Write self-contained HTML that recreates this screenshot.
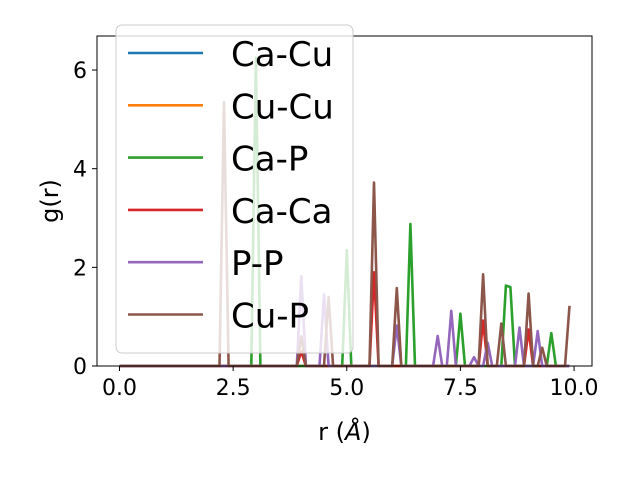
<!DOCTYPE html>
<html><head><meta charset="utf-8"><style>
body{margin:0;background:#fff;}
svg text{font-family:"DejaVu Sans","Liberation Sans",sans-serif;fill:#000;}
</style></head><body>
<svg id="chart" width="640" height="480">
<g id="plot"></g>
<g id="axes"></g>
<g id="legend"></g>
</svg>
<script>
const rGrid = Array.from({length:100},(_,i)=>+(i*0.1).toFixed(1));
const seriesNames = ["Ca-Cu","Cu-Cu","Ca-P","Ca-Ca","P-P","Cu-P"];
const seriesColors = ["#1f77b4","#ff7f0e","#2ca02c","#d62728","#9467bd","#8c564b"];
// peaks: [r, g]
const peaksCaCu = [];
const peaksCuCu = [];
const peaksCaP = [[3.0,6.25],[5.0,2.35],[6.4,2.88],[7.5,1.06],[8.5,1.63],[8.6,1.6],[9.5,0.67]];
const peaksCaCa = [[4.0,0.3],[5.6,1.9],[8.0,0.92],[9.0,0.74]];
const peaksPP = [[4.0,1.82],[4.5,1.45],[6.1,0.82],[7.0,0.61],[7.3,1.12],[7.8,0.18],[8.1,0.47],[8.8,0.78],[9.2,0.71]];
const peaksCuP = [[2.3,5.35],[4.0,0.6],[4.6,1.4],[5.6,3.72],[6.1,1.58],[8.0,1.86],[8.4,0.86],[9.0,1.47],[9.3,0.37],[9.9,1.22]];
const yTicks = [0,2,4,6];
const xTicks = [0,2.5,5,7.5,10];
const allPeaks = [peaksCaCu,peaksCuCu,peaksCaP,peaksCaCa,peaksPP,peaksCuP];

const L=97,R=592,T=36,B=366;
const xMin=-0.495,xMax=10.395,yMin=0,yMax=6.69;
const X=v=>L+(v-xMin)/(xMax-xMin)*(R-L);
const Y=v=>B-(v-yMin)/(yMax-yMin)*(B-T);
const NS="http://www.w3.org/2000/svg";
function mk(tag,attrs,parent){const e=document.createElementNS(NS,tag);for(const k in attrs)e.setAttribute(k,attrs[k]);parent.appendChild(e);return e;}

const plot=document.getElementById('plot');
allPeaks.forEach((pk,si)=>{
  const vals=rGrid.map(r=>{const p=pk.find(q=>Math.abs(q[0]-r)<1e-6);return p?p[1]:0;});
  const d=rGrid.map((r,i)=>(i?'L':'M')+X(r).toFixed(1)+','+Y(vals[i]).toFixed(1)).join('');
  const p=mk('path',{d:d,fill:'none',stroke:seriesColors[si],'stroke-width':2.6,'stroke-linejoin':'round'},plot);
  
  
});

const axes=document.getElementById('axes');
const frame=mk('rect',{x:L,y:T,width:R-L,height:B-T,fill:'none',stroke:'#000','stroke-width':1},axes);


xTicks.forEach(v=>{
  mk('line',{x1:X(v),x2:X(v),y1:B,y2:B+5,stroke:'#000'},axes);
  const t=mk('text',{x:X(v),y:B+29,'text-anchor':'middle','font-size':22},axes);
  t.textContent=v.toFixed(1);
  
  
});
yTicks.forEach(v=>{
  mk('line',{x1:L-5,x2:L,y1:Y(v),y2:Y(v),stroke:'#000'},axes);
  const t=mk('text',{x:L-10,y:Y(v)+8,'text-anchor':'end','font-size':22},axes);
  t.textContent=v;
  
  
});
const xl=mk('text',{x:(L+R)/2,y:440,'text-anchor':'middle','font-size':24},axes);
xl.innerHTML='r (<tspan font-style="italic">Å</tspan>)';


const yl=mk('text',{x:0,y:0,'text-anchor':'middle','font-size':24,transform:'translate(58,'+((T+B)/2)+') rotate(-90)'},axes);
yl.textContent='g(r)';



const lg=document.getElementById('legend');
const box=mk('rect',{x:116,y:25,width:237,height:328,rx:6,fill:'#fff','fill-opacity':0.8,stroke:'#ccc','stroke-width':1},lg);


seriesNames.forEach((n,i)=>{
  const y=53+i*52.3;
  const ln=mk('line',{x1:128,x2:203,y1:y,y2:y,stroke:seriesColors[i],'stroke-width':2.6},lg);
  
  
  const t=mk('text',{x:231,y:y+13,'font-size':34},lg);
  t.textContent=n;
  
  
});
</script>
</body></html>
